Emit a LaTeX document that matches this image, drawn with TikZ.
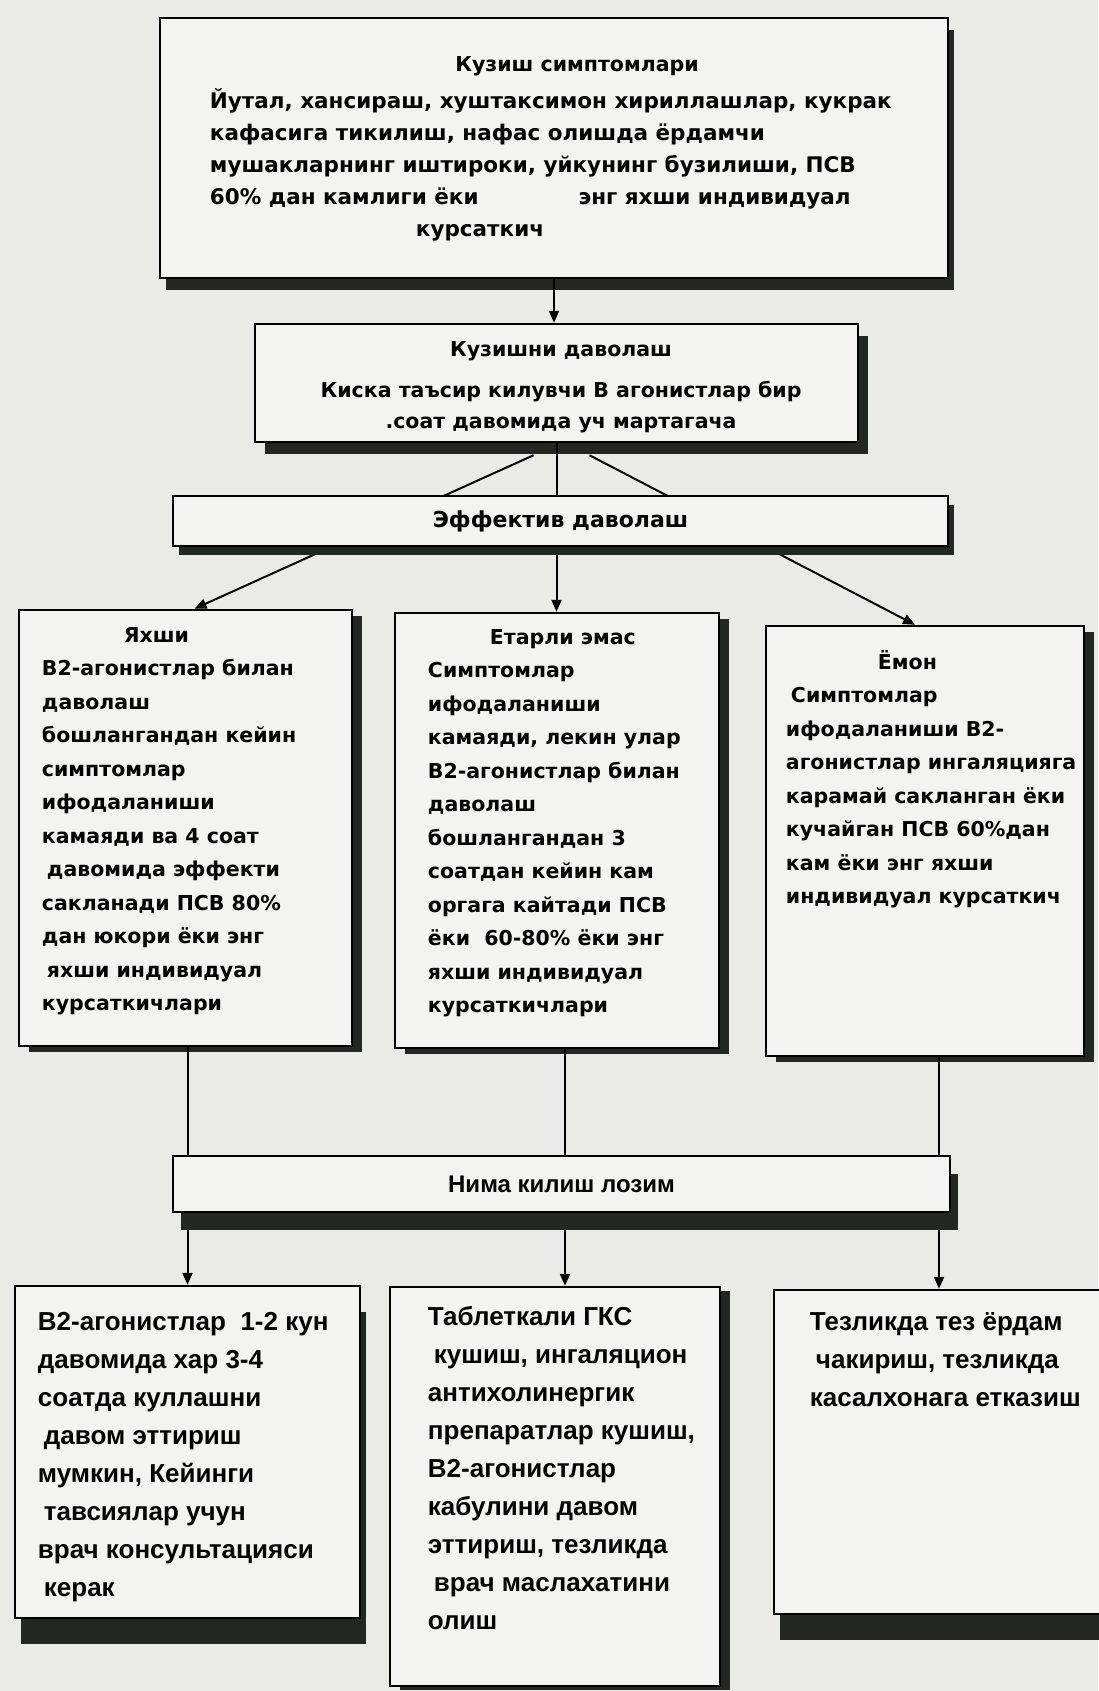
\documentclass[tikz,border=0pt]{standalone}
\usepackage{fontspec}
\setmainfont{Liberation Sans}
\newfontfamily\widesans{DejaVu Sans}
\usetikzlibrary{positioning, arrows.meta, shadows, calc}
\definecolor{bgcol}{RGB}{234,235,231}
\definecolor{boxcol}{RGB}{243,243,241}
\definecolor{shadowcol}{RGB}{36,38,34}

\begin{document}
\begin{tikzpicture}[
			x=1pt, y=-1pt,
			box/.style={
				draw=black,
				line width=2.5pt,
				fill=boxcol,
				inner sep=0pt
			},
			darkshadow/.style 2 args={
				drop shadow={shadow xshift=#1, shadow yshift=-#2, fill=shadowcol, opacity=1}
			},
			bodytext/.style={
				inner sep=0pt,
				align=left,
				font=\widesans\bfseries\fontsize{20.5}{33.5}\selectfont
			},
			lowtext/.style={
				inner sep=0pt,
				align=left,
				font=\bfseries\fontsize{26}{38}\selectfont
			},
			conn/.style={
				draw=black,
				line width=2pt,
				-{Triangle[length=12pt,width=10pt]}
			}
			]
			\fill[bgcol] (0,0) rectangle (1098,1691);
			\useasboundingbox (0,0) rectangle (1098,1691);
			
			% Top boxes
			\node[box, darkshadow={6pt}{12pt}, minimum width=788pt, minimum height=260pt] (simpt) at (554,148) {};
			\node[bodytext, anchor=north] (simpt-title) at ([shift={(23,31)}]simpt.north) {\strut Кузиш симптомлари};
			\node[bodytext, font=\widesans\bfseries\fontsize{21.5}{32}\selectfont, below right=69pt and 51pt of simpt.north west] (simpt-body)
			{\strut Йутал, хансираш, хуштаксимон хириллашлар, кукрак\\
				кафасига тикилиш, нафас олишда ёрдамчи\\
				мушакларнинг иштироки, уйкунинг бузилиши, ПСВ\\
				60\% дан камлиги ёки\hspace{100pt}энг яхши индивидуал\\
				\hspace*{206pt}курсаткич};
			
			\node[box, darkshadow={10pt}{12pt}, minimum width=603pt, minimum height=118pt] (davo) at (556.5,383) {};
			\node[bodytext, align=center, font=\widesans\bfseries\fontsize{20.5}{31}\selectfont, below=12pt of davo.north, xshift=4.5pt] (davo-text)
			{\strut Кузишни даволаш\\[10pt]
				Киска таъсир килувчи В агонистлар бир\\
				.соат давомида уч мартагача};
			
			% Result boxes
			\node[box, darkshadow={10pt}{6pt}, minimum width=333pt, minimum height=436pt] (yaxshi) at (185.5,828) {};
			\node[bodytext, below right=10pt and 24pt of yaxshi.north west] (yaxshi-text)
			{\strut\hspace*{82pt}Яхши\\
				В2-агонистлар билан\\
				даволаш\\
				бошлангандан кейин\\
				симптомлар\\
				ифодаланиши\\
				камаяди ва 4 соат\\
				\hspace*{5pt}давомида эффекти\\
				сакланади ПСВ 80\%\\
				дан юкори ёки энг\\
				\hspace*{5pt}яхши индивидуал\\
				курсаткичлари};
			
			\node[box, darkshadow={10pt}{6pt}, minimum width=324pt, minimum height=435pt] (yetarli) at (557,830.5) {};
			\node[bodytext, below right=9pt and 34pt of yetarli.north west] (yetarli-text)
			{\strut\hspace*{62pt}Етарли эмас\\
				Симптомлар\\
				ифодаланиши\\
				камаяди, лекин улар\\
				В2-агонистлар билан\\
				даволаш\\
				бошлангандан 3\\
				соатдан кейин кам\\
				оргага кайтади ПСВ\\
				ёки\ \ 60-80\% ёки энг\\
				яхши индивидуал\\
				курсаткичлари};
			
			\node[box, darkshadow={10pt}{6pt}, minimum width=318pt, minimum height=430pt] (yomon) at (925,841) {};
			\node[bodytext, below right=21pt and 21pt of yomon.north west] (yomon-text)
			{\strut\hspace*{92pt}Ёмон\\
				\hspace*{5pt}Симптомлар\\
				ифодаланиши В2-\\
				агонистлар ингаляцияга\\
				карамай сакланган ёки\\
				кучайган ПСВ 60\%дан\\
				кам ёки энг яхши\\
				индивидуал курсаткич};
			
			% Connectors from the top
			\draw[conn] (simpt.south) -- (simpt.south |- davo.north);
			\draw[conn] ([shift={(-23,12)}]davo.south) -- ([xshift=9pt]yaxshi.north);
			\draw[conn] (davo.south) -- (davo.south |- yetarli.north);
			\draw[conn] ([shift={(33,12)}]davo.south) -- ([xshift=-10pt]yomon.north);
			
			\node[box, darkshadow={6pt}{9pt}, minimum width=775pt, minimum height=50pt, font=\widesans\bfseries\fontsize{22}{26}\selectfont] (effekt) at (560.5,521) {Эффектив даволаш};
			
			% Action boxes
			\node[box, darkshadow={6pt}{26pt}, minimum width=345pt, minimum height=332pt] (tavsiya) at (187.5,1452) {};
			\node[lowtext, below right=19pt and 24pt of tavsiya.north west] (tavsiya-text)
			{\strut В2-агонистлар\ \ 1-2 кун\\
				давомида хар 3-4\\
				соатда куллашни\\
				\hspace*{6pt}давом эттириш\\
				мумкин, Кейинги\\
				\hspace*{6pt}тавсиялар учун\\
				врач консультацияси\\
				\hspace*{6pt}керак};
			
			\node[box, darkshadow={10pt}{4pt}, minimum width=330pt, minimum height=399pt] (davom) at (555,1486.5) {};
			\node[lowtext, below right=13pt and 39pt of davom.north west] (davom-text)
			{\strut Таблеткали ГКС\\
				\hspace*{6pt}кушиш, ингаляцион\\
				антихолинергик\\
				препаратлар кушиш,\\
				В2-агонистлар\\
				кабулини давом\\
				эттириш, тезликда\\
				\hspace*{6pt}врач маслахатини\\
				олиш};
			
			\node[box, darkshadow={6pt}{26pt}, minimum width=330pt, minimum height=324pt] (shoshilinch) at (939,1452) {};
			\node[lowtext, below right=15pt and 37pt of shoshilinch.north west] (shoshilinch-text)
			{\strut Тезликда тез ёрдам\\
				\hspace*{6pt}чакириш, тезликда\\
				касалхонага етказиш};
			
			% Connectors to the bottom
			\draw[conn] (tavsiya.north |- yaxshi.south) -- (tavsiya.north);
			\draw[conn] ($(davom.north |- yetarli.south)+(10,0)$) -- ($(davom.north)+(10,0)$);
			\draw[conn] (shoshilinch.north |- yomon.south) -- (shoshilinch.north);
			
			\node[box, darkshadow={8pt}{18pt}, minimum width=777pt, minimum height=56pt, font=\bfseries\fontsize{24}{28}\selectfont] (nima) at (561.5,1184) {Нима килиш лозим};
		\end{tikzpicture}
\end{document}
